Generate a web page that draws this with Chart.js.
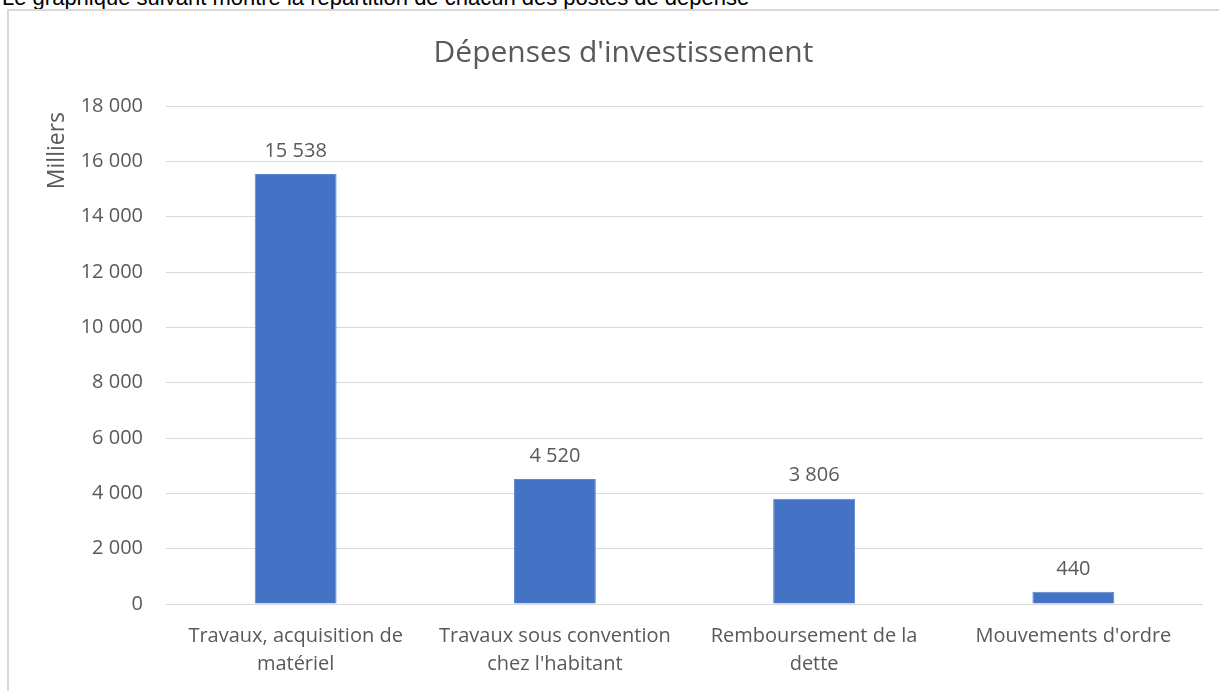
<!DOCTYPE html>
<html>
<head>
<meta charset="utf-8">
<script src="https://cdn.jsdelivr.net/npm/chart.js@4/dist/chart.umd.min.js"></script>
<style>
  body { margin: 0; background: #fff; overflow: hidden; }
  #caption {
    position: absolute; left: 2px; top: -15px; line-height: 22px;
    font: 22px "Liberation Sans", Arial, sans-serif; color: #000; white-space: nowrap;
  }
  #box {
    position: absolute; left: 7px; top: 9px; width: 1230px; height: 700px;
    border: 2px solid #d9d9d9; background: #fff;
  }
  #wrap { position: absolute; left: 0; top: 0; width: 1210px; height: 680px; }
</style>
</head>
<body>
<div id="caption">Le graphique suivant montre la répartition de chacun des postes de dépense</div>
<div id="box"><div id="wrap"><canvas id="myChart"></canvas></div></div>
<script>
// données (en milliers)
const categories = [
  ['Travaux, acquisition de', 'matériel'],
  ['Travaux sous convention', "chez l'habitant"],
  ['Remboursement de la', 'dette'],
  ["Mouvements d'ordre"]
]
const valeurs = [15538, 4520, 3806, 440]
const yTicks = [0, 2000, 4000, 6000, 8000, 10000, 12000, 14000, 16000, 18000]

const grisTexte = '#595959'
const police = '"Open Sans", "Segoe UI", sans-serif'

// format français : 15 538
const fmt = v => String(v).replace(/\B(?=(\d{3})+(?!\d))/g, '\u00a0')

// étiquettes au-dessus des barres
const etiquettes = {
  id: 'etiquettes',
  afterDatasetsDraw(chart) {
    const { ctx } = chart
    const meta = chart.getDatasetMeta(0)
    ctx.save()
    ctx.font = '20px ' + police
    ctx.fillStyle = grisTexte
    ctx.textAlign = 'center'
    ctx.textBaseline = 'middle'
    meta.data.forEach((bar, i) => {
      ctx.fillText(fmt(valeurs[i]), bar.x, bar.y - 23)
    })
    ctx.restore()
  }
}

const ctx = document.getElementById('myChart')

new Chart(ctx, {
  type: 'bar',
  data: {
    labels: categories,
    datasets: [{
      data: valeurs,
      backgroundColor: '#4472c4',
      borderColor: '#5b86d0',
      borderWidth: 1,
      categoryPercentage: 1,
      barPercentage: 0.316
    }]
  },
  options: {
    responsive: true,
    maintainAspectRatio: false,
    animation: false,
    layout: { padding: { left: 35, right: 16, top: 0, bottom: 0 } },
    plugins: {
      legend: { display: false },
      tooltip: { enabled: false },
      title: {
        display: true,
        text: "Dépenses d'investissement",
        color: grisTexte,
        font: { family: police, size: 30, weight: 'normal', lineHeight: 1.2 },
        padding: { top: 24, bottom: 35 }
      }
    },
    scales: {
      x: {
        afterFit(scale) { scale.height = 87 },
        grid: { display: false, drawTicks: false },
        border: { display: false },
        ticks: {
          color: grisTexte,
          font: { family: police, size: 20, lineHeight: 1.4 },
          padding: 18,
          maxRotation: 0,
          autoSkip: false
        }
      },
      y: {
        min: 0,
        max: 18000,
        afterFit(scale) { scale.width = 122 },
        afterBuildTicks(scale) { scale.ticks = yTicks.map(v => ({ value: v })) },
        grid: { color: '#d9d9d9', lineWidth: 1, drawTicks: false },
        border: { display: false },
        ticks: {
          color: grisTexte,
          font: { family: police, size: 20 },
          padding: 23,
          callback: v => fmt(v)
        },
        title: {
          display: true,
          text: 'Milliers ',
          align: 'end',
          color: grisTexte,
          font: { family: police, size: 23 },
          padding: { top: 0, bottom: 0 }
        }
      }
    }
  },
  plugins: [etiquettes]
})
</script>
</body>
</html>
